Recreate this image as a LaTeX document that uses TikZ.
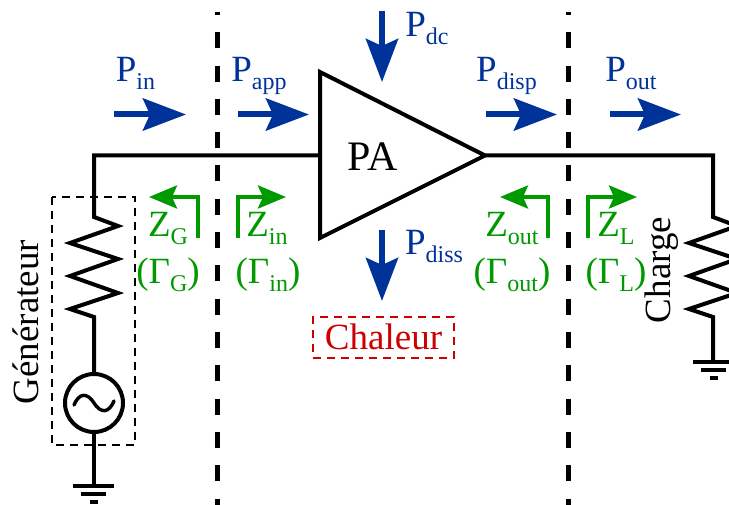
\documentclass[tikz,border=0pt]{standalone}
\usepackage{fontspec}
\setmainfont{Liberation Serif}
\usetikzlibrary{arrows.meta}
\definecolor{pblue}{RGB}{0,51,153}
\definecolor{zgreen}{RGB}{0,153,0}
\definecolor{hred}{RGB}{204,0,0}
\newcommand{\fs}[1]{\fontsize{#1}{#1}\selectfont}
\newcommand{\pw}[2]{#1\raisebox{-8pt}{\fs{24}#2}}
\tikzset{
  wire/.style={line width=4pt,line join=miter},
  sep/.style={line width=5pt,dash pattern=on 16pt off 17.3pt,dash phase=13pt},
  pflow/.style={pblue,line width=6pt,-{Stealth[length=43pt,width=32pt,inset=7pt]}},
  zarrow/.style={zgreen,line width=4pt,-{Stealth[length=28pt,width=23pt,inset=5pt]}},
  plabel/.style={pblue,inner sep=0pt,anchor=base,font=\fs{37}},
  zlabel/.style={zgreen,inner sep=0pt,anchor=base,font=\fs{37}},
  blackt/.style={inner sep=0pt,anchor=base,font=\fs{37}},
  gnd/.style={line width=4pt},
}
\begin{document}
\begin{tikzpicture}[x=1pt,y=-1pt]
\clip (0,0) rectangle (729,505);
% separators
\coordinate (s1t) at (217,12); \coordinate (s1b) at (217,505);
\coordinate (s2t) at (568,12); \coordinate (s2b) at (568,505);
\draw[sep] (s1t) -- (s1b);
\draw[sep] (s2t) -- (s2b);
% amplifier
\coordinate (ampA) at (320,72); \coordinate (ampB) at (320,238); \coordinate (ampO) at (485,155.5);
\coordinate (ampI) at (320,155.5);
\coordinate (cornerL) at (94,155.5); \coordinate (cornerR) at (713,155.5);
\draw[wire] (ampA) -- (ampO) -- (ampB) -- cycle;
\node[blackt,font=\fs{42}] (pa) at (372.5,171) {PA};
% generator branch
\node[circle,draw,line width=4pt,minimum size=58pt,inner sep=0pt] (gen) at (94,403) {};
\draw[wire,line width=3.4pt,line cap=round] (74,405) .. controls (79,393) and (87,392) .. (94,403) .. controls (101,414) and (109,413) .. (114,401);
\coordinate (g0) at (94,486);
\draw[wire] (ampI) -- (cornerL) -- (94,217) -- (118,226) -- (70,243) -- (118,259) -- (70,276) -- (118,293) -- (70,309) -- (94,317) -- (gen.north);
\draw[wire] (gen.south) -- (g0);
\draw[gnd] (73,486) -- (114,486);
\draw[gnd] (81,494) -- (106,494);
\draw[gnd] (90,502) -- (98,502);
\draw[line width=1.6pt,dash pattern=on 8pt off 6pt] (52,197) rectangle (135,445);
\node[blackt,rotate=90] (gent) at (38,322) {Générateur};
% load branch
\coordinate (l0) at (713,362);
\draw[wire] (ampO) -- (cornerR) -- (713,217) -- (737,226) -- (689,243) -- (737,259) -- (689,276) -- (737,293) -- (689,309) -- (713,317) -- (l0);
\draw[gnd] (693,362) -- (733,362);
\draw[gnd] (701,370) -- (726,370);
\draw[gnd] (710,378) -- (718,378);
\node[blackt,rotate=90] (chg) at (670,270) {Charge};
% power arrows
\foreach \n/\a/\b in {in/114/186,app/238/309,disp/486/557,out/610/681}{
  \coordinate (p\n a) at (\a,114.5); \coordinate (p\n b) at (\b,114.5);
  \draw[pflow] (p\n a) -- (p\n b);
}
\coordinate (pdca) at (382,11); \coordinate (pdcb) at (382,82);
\coordinate (pdia) at (382,230); \coordinate (pdib) at (382,301);
\draw[pflow] (pdca) -- (pdcb);
\draw[pflow] (pdia) -- (pdib);
\node[plabel] (lin) at (135.5,82) {\pw{P}{in}};
\node[plabel] (lapp) at (259,82) {\pw{P}{app}};
\node[plabel] (ldc) at (427,37) {\pw{P}{dc}};
\node[plabel] (ldisp) at (506.5,82) {\pw{P}{disp}};
\node[plabel] (lout) at (631,82) {\pw{P}{out}};
\node[plabel] (ldiss) at (434,255) {\pw{P}{diss}};
% impedance arrows
\coordinate (zga) at (198,238); \coordinate (zgc) at (198,197); \coordinate (zgb) at (149,197);
\coordinate (zia) at (238,238); \coordinate (zic) at (238,197); \coordinate (zib) at (286,197);
\coordinate (zoa) at (548,238); \coordinate (zoc) at (548,197); \coordinate (zob) at (500,197);
\coordinate (zla) at (588,238); \coordinate (zlc) at (588,197); \coordinate (zlb) at (637,197);
\draw[zarrow] (zga) -- (zgc) -- (zgb);
\draw[zarrow] (zia) -- (zic) -- (zib);
\draw[zarrow] (zoa) -- (zoc) -- (zob);
\draw[zarrow] (zla) -- (zlc) -- (zlb);
\node[zlabel] (tzg) at (168,237) {\pw{Z}{G}};
\node[zlabel] (tzi) at (267,237) {\pw{Z}{in}};
\node[zlabel] (tzo) at (512,237) {\pw{Z}{out}};
\node[zlabel] (tzl) at (616,237) {\pw{Z}{L}};
\node[zlabel] (tgg) at (168,284) {(\pw{Γ}{G})};
\node[zlabel] (tgi) at (268,284) {(\pw{Γ}{in})};
\node[zlabel] (tgo) at (512,284) {(\pw{Γ}{out})};
\node[zlabel] (tgl) at (616,284) {(\pw{Γ}{L})};
% heat
\node[draw=hred,text=hred,line width=1.6pt,dash pattern=on 8pt off 6pt,minimum width=141pt,minimum height=41pt,inner sep=0pt,text height=25pt,text depth=2pt,font=\fs{37}] (heat) at (383.5,337.5) {Chaleur};
\end{tikzpicture}
\end{document}
